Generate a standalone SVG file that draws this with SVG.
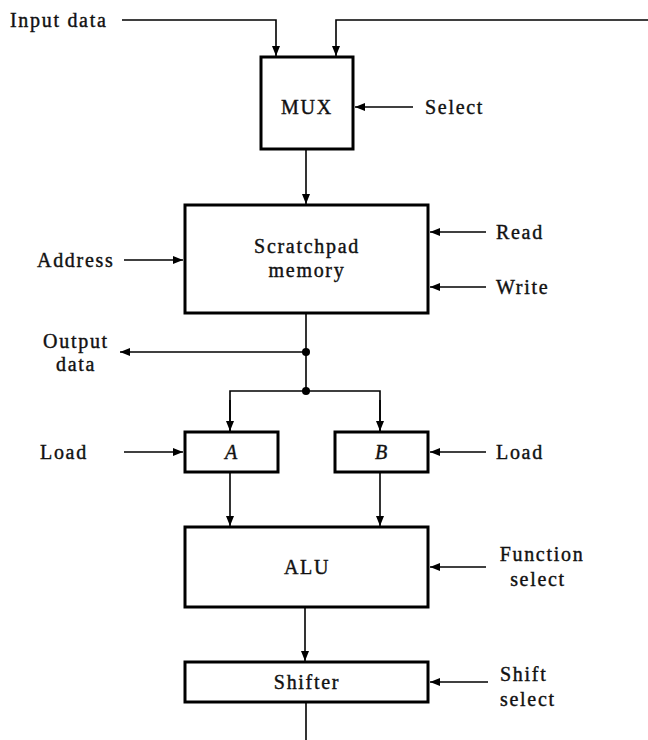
<svg xmlns="http://www.w3.org/2000/svg" width="648" height="740" viewBox="0 0 648 740">
<style>
.box{fill:#fff;stroke:#000;stroke-width:3}
.ln{fill:none;stroke:#000;stroke-width:1.6}
text{font-family:"Liberation Serif","Times New Roman",serif;font-size:20px;letter-spacing:1.7px;fill:#111;stroke:#111;stroke-width:0.4}
.c{text-anchor:middle}
.i{font-style:italic}
</style>
<defs>
<marker id="ah" viewBox="0 0 10 8" refX="10" refY="4" markerWidth="10" markerHeight="8" markerUnits="userSpaceOnUse" orient="auto">
<path d="M0,0 L10,4 L0,8 Z" fill="#000"/>
</marker>
</defs>
<rect width="648" height="740" fill="#fff"/>
<g id="connectors">
<path class="ln" d="M122,20 H276 V56" marker-end="url(#ah)"/>
<path class="ln" d="M648,20 H336 V56" marker-end="url(#ah)"/>
<path class="ln" d="M413,107 H355" marker-end="url(#ah)"/>
<path class="ln" d="M306,149 V204" marker-end="url(#ah)"/>
<path class="ln" d="M124,260 H183" marker-end="url(#ah)"/>
<path class="ln" d="M486,232 H430" marker-end="url(#ah)"/>
<path class="ln" d="M486,287 H430" marker-end="url(#ah)"/>
<path class="ln" d="M306,313 V391"/>
<path class="ln" d="M306,352 H120" marker-end="url(#ah)"/>
<circle cx="306" cy="352" r="4" fill="#000"/>
<circle cx="306" cy="391" r="4" fill="#000"/>
<path class="ln" d="M230,431 V391 H380 V431" />
<path class="ln" d="M230,400 V431" marker-end="url(#ah)"/>
<path class="ln" d="M380,400 V431" marker-end="url(#ah)"/>
<path class="ln" d="M124,452 H183" marker-end="url(#ah)"/>
<path class="ln" d="M486,452 H430" marker-end="url(#ah)"/>
<path class="ln" d="M230,472 V526" marker-end="url(#ah)"/>
<path class="ln" d="M380,472 V526" marker-end="url(#ah)"/>
<path class="ln" d="M486,567 H430" marker-end="url(#ah)"/>
<path class="ln" d="M305,607 V661" marker-end="url(#ah)"/>
<path class="ln" d="M488,682 H430" marker-end="url(#ah)"/>
<path class="ln" d="M306,702 V740"/>
</g>
<g id="input-data"><text x="10" y="27">Input data</text></g>
<g id="mux">
<rect class="box" x="261" y="57" width="92" height="92"/>
<text class="c" x="307" y="114">MUX</text>
</g>
<g id="select"><text x="425" y="114">Select</text></g>
<g id="scratchpad">
<rect class="box" x="185" y="205" width="243" height="108"/>
<text class="c" x="307" y="253">Scratchpad</text>
<text class="c" x="307" y="277">memory</text>
</g>
<g id="address"><text x="37" y="267">Address</text></g>
<g id="read"><text x="496" y="239">Read</text></g>
<g id="write"><text x="496" y="294">Write</text></g>
<g id="output-data">
<text class="c" x="76" y="348">Output</text>
<text class="c" x="76" y="371">data</text>
</g>
<g id="regA">
<rect class="box" x="185" y="432" width="93" height="40"/>
<text class="c i" x="232" y="459">A</text>
</g>
<g id="regB">
<rect class="box" x="335" y="432" width="93" height="40"/>
<text class="c i" x="382" y="459">B</text>
</g>
<g id="loadA"><text x="40" y="459">Load</text></g>
<g id="loadB"><text x="496" y="459">Load</text></g>
<g id="alu">
<rect class="box" x="185" y="527" width="243" height="80"/>
<text class="c" x="307" y="574">ALU</text>
</g>
<g id="function-select">
<text class="c" x="542" y="561">Function</text>
<text class="c" x="538" y="586">select</text>
</g>
<g id="shifter">
<rect class="box" x="185" y="662" width="243" height="40"/>
<text class="c" x="307" y="689">Shifter</text>
</g>
<g id="shift-select">
<text x="500" y="681">Shift</text>
<text x="500" y="706">select</text>
</g>
</svg>
